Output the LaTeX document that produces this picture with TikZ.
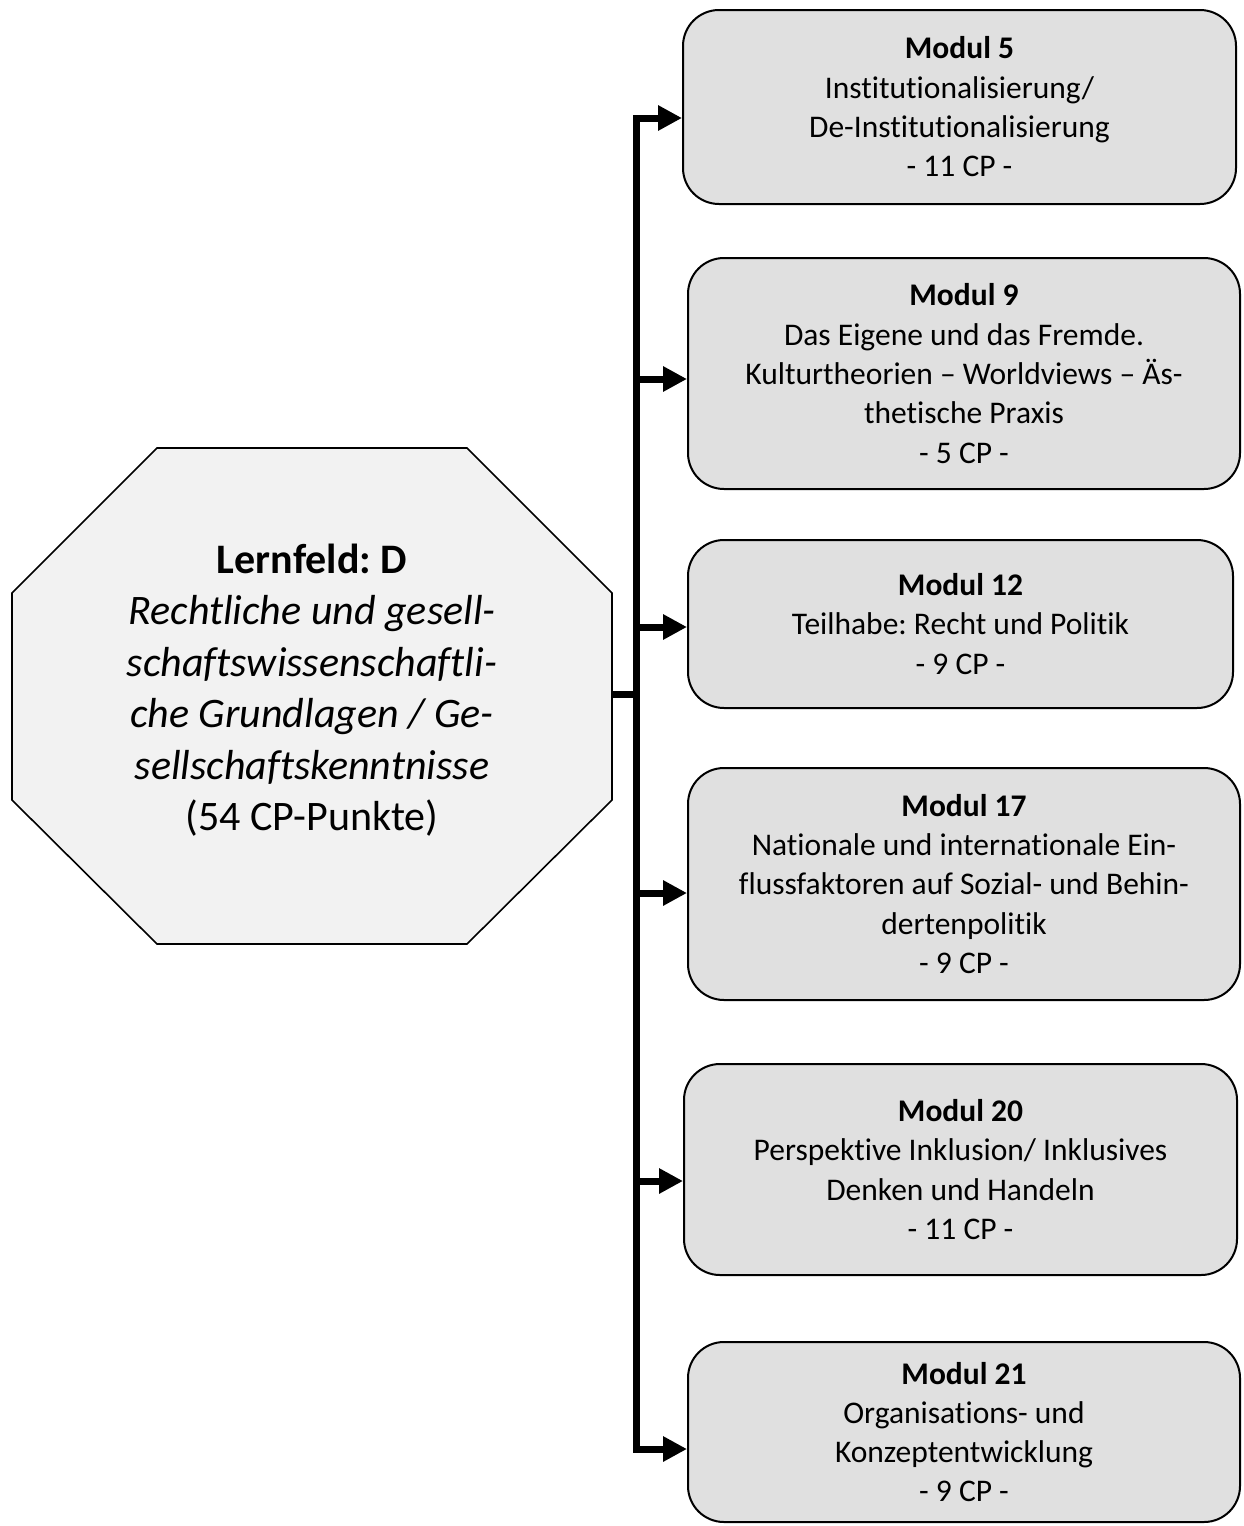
\documentclass[tikz,border=0pt]{standalone}
\usepackage{fontspec}
\setmainfont[Ligatures=NoCommon]{Carlito}
\usetikzlibrary{arrows.meta}

\definecolor{boxgray}{gray}{0.88}
\definecolor{octgray}{gray}{0.95}

\begin{document}
\frenchspacing
\begin{tikzpicture}[x=1pt, y=-1pt,
    modul/.style={draw, line width=2pt, rounded corners=36pt, fill=boxgray, align=center, inner sep=0pt, font=\fontsize{31.5}{39.3}\selectfont},
    feld/.style={align=center, inner sep=0pt, font=\fontsize{42}{51.5}\selectfont},
    bus/.style={line width=7pt},
    arr/.style={line width=7pt, -{Triangle[length=24pt, width=24pt]}}]

    \useasboundingbox (0,0) rectangle (1244,1526);

    % Coordinates on the bus
    \coordinate (b1) at (636,118);
    \coordinate (b2) at (636,379);
    \coordinate (b3) at (636,627);
    \coordinate (b4) at (636,893);
    \coordinate (b5) at (636,1181);
    \coordinate (b6) at (636,1449);
    \coordinate (lfe) at (612,694);

    % Lernfeld
    \draw [line width=1.6pt, fill=octgray] (12,593) -- (157,448) -- (467,448) -- (612,593)
        -- (612,800) -- (467,944) -- (157,944) -- (12,800) -- cycle;
    \node [feld] (lf) at (312,690)
        {\textbf{Lernfeld: D}\\ \textit{Rechtliche und gesell-}\\ \textit{schaftswissenschaftli-}\\ \textit{che Grundlagen / Ge-}\\ \textit{sellschaftskenntnisse}\\ (54 CP-Punkte)};

    % Modules
    \node [modul, minimum width=553pt, minimum height=194pt] (m5) at (959.5,107)
        {\textbf{Modul 5}\\ Institutionalisierung/\\ De-Institutionalisierung\\ - 11 CP -};
    \node [modul, minimum width=552pt, minimum height=231pt] (m9) at (964,373.5)
        {\textbf{Modul 9}\\ Das Eigene und das Fremde.\\ Kulturtheorien -- Worldviews -- Äs-\\ thetische Praxis\\ - 5 CP -};
    \node [modul, minimum width=545pt, minimum height=168pt] (m12) at (960.5,624)
        {\textbf{Modul 12}\\ Teilhabe: Recht und Politik\\ - 9 CP -};
    \node [modul, minimum width=552pt, minimum height=232pt] (m17) at (964,884)
        {\textbf{Modul 17}\\ Nationale und internationale Ein-\\ flussfaktoren auf Sozial- und Behin-\\ dertenpolitik\\ - 9 CP -};
    \node [modul, minimum width=553pt, minimum height=211pt] (m20) at (960.5,1169.5)
        {\textbf{Modul 20}\\ Perspektive Inklusion/ Inklusives\\ Denken und Handeln\\ - 11 CP -};
    \node [modul, minimum width=552pt, minimum height=180pt] (m21) at (964,1432)
        {\textbf{Modul 21}\\ Organisations- und\\ Konzeptentwicklung\\ - 9 CP -};

    % Bus and arrows
    \draw [bus] (lfe) -- (lfe -| b1);
    \draw [arr, {Triangle[length=24pt, width=24pt]}-{Triangle[length=24pt, width=24pt]}] (b1 -| m5.west) -- (b1) -- (b6) -- (b6 -| m21.west);
    \draw [arr] (b2) -- (b2 -| m9.west);
    \draw [arr] (b3) -- (b3 -| m12.west);
    \draw [arr] (b4) -- (b4 -| m17.west);
    \draw [arr] (b5) -- (b5 -| m20.west);

\end{tikzpicture}
\end{document}
